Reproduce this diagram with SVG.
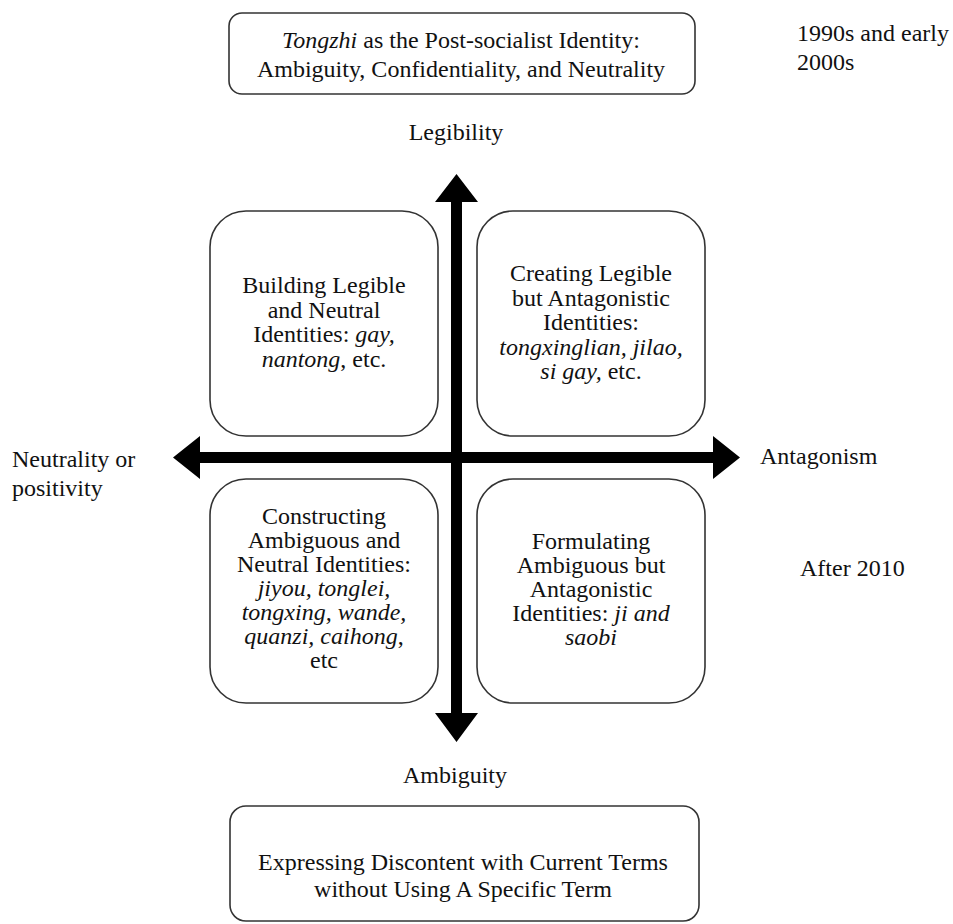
<svg xmlns="http://www.w3.org/2000/svg" width="953" height="924" viewBox="0 0 953 924">
<style>
.box{fill:#fff;stroke:#333;stroke-width:1.6}
text{font-family:"Liberation Serif","Times New Roman",serif;font-size:24px;fill:#111}
.c{text-anchor:middle}
.i{font-style:italic}
.arrow{fill:#000}
</style>
<rect width="953" height="924" fill="#fff"/>
<g id="connectors">
<path class="arrow" d="M456.5,174 L478,202 L462,202 L462,713 L478,713 L456.5,742 L435,713 L451,713 L451,202 L435,202 Z"/>
<path class="arrow" d="M173,457.5 L200,436 L200,452 L713,452 L713,436 L740,457.5 L713,479 L713,463 L200,463 L200,479 Z"/>
</g>
<g id="top">
<rect class="box" x="229" y="13" width="466" height="81" rx="13"/>
<text class="c" x="461" y="48"><tspan class="i">Tongzhi</tspan> as the Post-socialist Identity:</text>
<text class="c" x="461" y="77">Ambiguity, Confidentiality, and Neutrality</text>
</g>
<g id="label-1990s">
<text x="797" y="41">1990s and early</text>
<text x="797" y="70">2000s</text>
</g>
<g id="label-legibility"><text class="c" x="456" y="140">Legibility</text></g>
<g id="q-tl">
<rect class="box" x="210" y="211" width="228" height="225" rx="36"/>
<text class="c" x="324" y="293">Building Legible</text>
<text class="c" x="324" y="317.5">and Neutral</text>
<text class="c" x="324" y="342">Identities: <tspan class="i">gay,</tspan></text>
<text class="c" x="324" y="366.5"><tspan class="i">nantong</tspan>, etc.</text>
</g>
<g id="q-tr">
<rect class="box" x="477" y="211" width="228" height="225" rx="36"/>
<text class="c" x="591" y="281">Creating Legible</text>
<text class="c" x="591" y="305.5">but Antagonistic</text>
<text class="c" x="591" y="330">Identities:</text>
<text class="c i" x="591" y="354.5">tongxinglian, jilao,</text>
<text class="c" x="591" y="379"><tspan class="i">si gay,</tspan> etc.</text>
</g>
<g id="q-bl">
<rect class="box" x="210" y="479" width="228" height="224" rx="36"/>
<text class="c" x="324" y="524">Constructing</text>
<text class="c" x="324" y="548">Ambiguous and</text>
<text class="c" x="324" y="572">Neutral Identities:</text>
<text class="c i" x="324" y="596">jiyou, tonglei,</text>
<text class="c i" x="324" y="620">tongxing, wande,</text>
<text class="c" x="324" y="644"><tspan class="i">quanzi, caihong</tspan>,</text>
<text class="c" x="324" y="668">etc</text>
</g>
<g id="q-br">
<rect class="box" x="477" y="479" width="228" height="224" rx="36"/>
<text class="c" x="591" y="549">Formulating</text>
<text class="c" x="591" y="573">Ambiguous but</text>
<text class="c" x="591" y="597">Antagonistic</text>
<text class="c" x="591" y="620.5">Identities: <tspan class="i">ji and</tspan></text>
<text class="c i" x="591" y="644.5">saobi</text>
</g>
<g id="label-neutrality">
<text x="12" y="467">Neutrality or</text>
<text x="12" y="496">positivity</text>
</g>
<g id="label-antagonism"><text x="760" y="464">Antagonism</text></g>
<g id="label-after2010"><text x="800" y="576">After 2010</text></g>
<g id="label-ambiguity"><text class="c" x="455" y="783">Ambiguity</text></g>
<g id="bottom">
<rect class="box" x="230" y="806" width="469" height="115" rx="16"/>
<text class="c" x="463" y="870">Expressing Discontent with Current Terms</text>
<text class="c" x="463" y="897">without Using A Specific Term</text>
</g>
</svg>
